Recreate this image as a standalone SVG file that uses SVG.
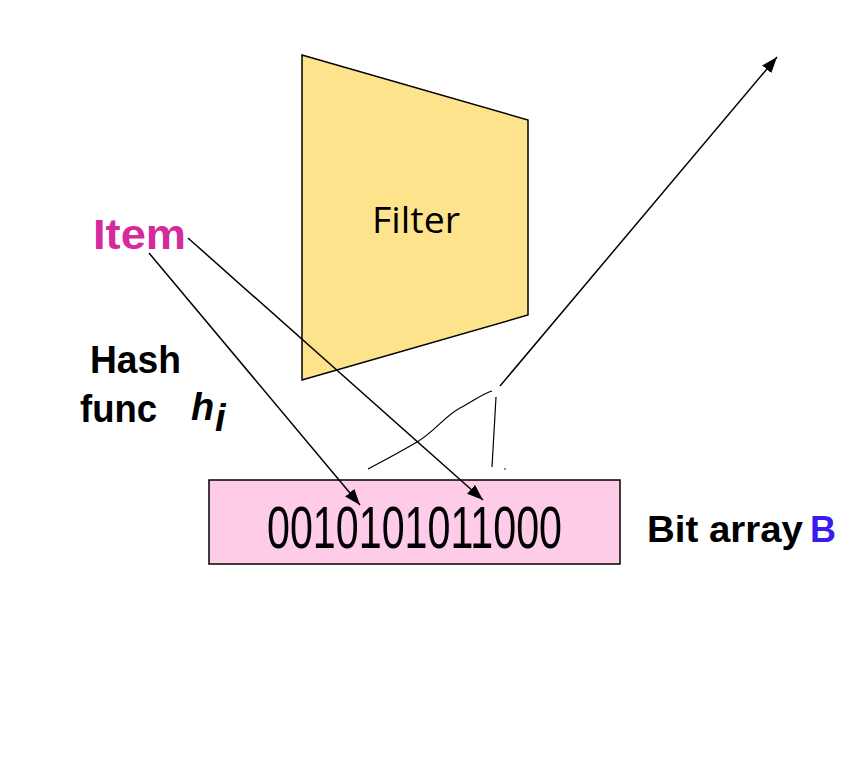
<svg xmlns="http://www.w3.org/2000/svg" width="860" height="760" viewBox="0 0 860 760">
<style>
.lbl{font-family:"Liberation Sans",Arial,sans-serif;font-weight:bold;fill:#000}
.ln{fill:none;stroke:#000;stroke-width:1.5}
.thin{fill:none;stroke:#000;stroke-width:1.2}
</style>
<defs>
<marker id="ahb" viewBox="0 0 10 10" refX="10" refY="5" markerWidth="16" markerHeight="12" markerUnits="userSpaceOnUse" orient="auto" preserveAspectRatio="none">
<path d="M0,0 L10,5 L0,10 Z" fill="#000"/>
</marker>
</defs>
<rect width="860" height="760" fill="#fff"/>
<g id="filter">
<polygon points="302,55 528,120 528,315 302,380" fill="#FCE38C" stroke="#000" stroke-width="1.5"/>
<text x="416" y="233" text-anchor="middle" font-family="'Open Sans','Liberation Sans',sans-serif" font-size="36" fill="#000" textLength="88" lengthAdjust="spacingAndGlyphs">Filter</text>
</g>
<g id="bitarray">
<rect x="209" y="480" width="411" height="84" fill="#FFCCE8" stroke="#000" stroke-width="1.5"/>
<text transform="translate(267,548) scale(1,1.5)" x="0" y="0" font-family="'Liberation Sans',Arial,sans-serif" font-size="40" fill="#000" textLength="295" lengthAdjust="spacingAndGlyphs">0010101011000</text>
</g>
<g id="item">
<text x="93" y="249" class="lbl" font-size="43" style="fill:#D42A9C" textLength="93" lengthAdjust="spacingAndGlyphs">Item</text>
</g>
<g id="hash">
<text x="90" y="373" class="lbl" font-size="38" textLength="91" lengthAdjust="spacingAndGlyphs">Hash</text>
<text x="80" y="422" class="lbl" font-size="38" textLength="77" lengthAdjust="spacingAndGlyphs">func</text>
<text x="191" y="420" class="lbl" font-size="38" font-style="italic">h</text>
<text x="215" y="431" class="lbl" font-size="38" font-style="italic">i</text>
</g>
<g id="bitlabel">
<text x="647" y="542" class="lbl" font-size="36" textLength="156" lengthAdjust="spacingAndGlyphs">Bit array</text>
<text x="810" y="542" class="lbl" font-size="36" style="fill:#3A1CF0">B</text>
</g>
<g id="connectors">
<line class="ln" x1="149" y1="253" x2="360" y2="505" marker-end="url(#ahb)"/>
<line class="ln" x1="188" y1="238" x2="483" y2="500" marker-end="url(#ahb)"/>
<line class="ln" x1="500" y1="386" x2="777" y2="57" marker-end="url(#ahb)"/>
<path class="thin" d="M368,469 C385,460 400,452 417,442 S445,416 460,408 S482,394 492,391"/>
<path class="thin" d="M496,397 L492,467"/>
<circle cx="505" cy="469" r="0.8" fill="#000"/>
</g>
</svg>
